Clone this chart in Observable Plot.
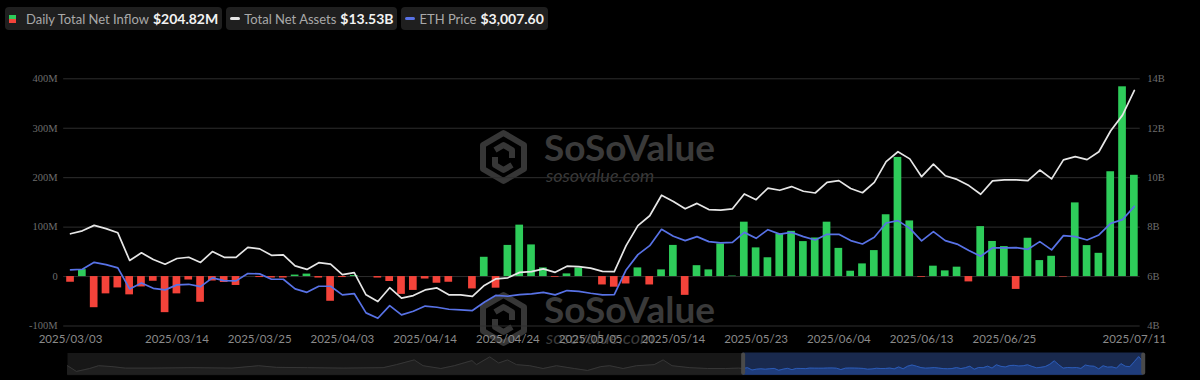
<!DOCTYPE html>
<html>
<head>
<meta charset="utf-8">
<script src="https://cdn.jsdelivr.net/npm/d3@7"></script>
<script src="https://cdn.jsdelivr.net/npm/@observablehq/plot@0.6"></script>
<style>
  html, body { margin:0; padding:0; background:#000; width:1200px; height:380px; overflow:hidden; font-family: Lato, "Noto Sans", sans-serif; }
  #page { position:relative; width:1200px; height:380px; }
  #wm { position:absolute; left:0; top:0; width:1200px; height:380px; z-index:0; pointer-events:none; }
  #content { position:relative; z-index:1; }
  #legend { height:36px; position:relative; }
  .pill { position:absolute; top:7px; height:23px; background:#1f1f1f; border-radius:4px; display:flex; align-items:center; box-sizing:border-box; padding:0 4px; white-space:nowrap; }
  .lab { color:#a9a9a9; font-size:13px; }
  .val { color:#f2f2f2; font-size:14px; font-weight:700; margin-left:4px; }
  .sq { width:7px; height:8px; margin-right:10px; background:linear-gradient(#2ecc5a 0 50%, #f4433a 50% 100%); }
  .ln { width:10px; height:3px; border-radius:2px; margin-right:4px; }
  svg { display:block; }
</style>
</head>
<body>
<div id="page">
  <svg id="wm" width="1200" height="380">
    <g fill="none" stroke="#363636" stroke-width="6" stroke-linejoin="round">
      <polygon points="503.5,133 524,145 524,169 503.5,181 483,169 483,145"/>
      <path d="M495,150 L503.5,145 L512,150 L512,158 M495,157 L495,165 L503.5,170 L512,165"/>
    </g>
    <g fill="#3a3a3a" font-family="Lato, sans-serif">
      <text x="544" y="161" font-size="37" font-weight="700">SoSoValue</text>
      <text x="546" y="182" font-size="18" font-style="italic">sosovalue.com</text>
    </g>
    <g transform="translate(0,162)">
      <g fill="none" stroke="#363636" stroke-width="6" stroke-linejoin="round">
        <polygon points="503.5,133 524,145 524,169 503.5,181 483,169 483,145"/>
        <path d="M495,150 L503.5,145 L512,150 L512,158 M495,157 L495,165 L503.5,170 L512,165"/>
      </g>
      <g fill="#3a3a3a" font-family="Lato, sans-serif">
        <text x="544" y="161" font-size="37" font-weight="700">SoSoValue</text>
        <text x="546" y="182" font-size="18" font-style="italic">sosovalue.com</text>
      </g>
    </g>
  </svg>
  <div id="content">
    <div id="legend"></div>
    <div id="main"></div>
    <div id="nav"></div>
  </div>
</div>
<script>
// ---- data ----
const dates = [
  "2025/03/03","2025/03/04","2025/03/05","2025/03/06","2025/03/07","2025/03/10","2025/03/11","2025/03/12","2025/03/13","2025/03/14",
  "2025/03/17","2025/03/18","2025/03/19","2025/03/20","2025/03/21","2025/03/24","2025/03/25","2025/03/26","2025/03/27","2025/03/28",
  "2025/03/31","2025/04/01","2025/04/02","2025/04/03","2025/04/04","2025/04/07","2025/04/08","2025/04/09","2025/04/10","2025/04/11",
  "2025/04/14","2025/04/15","2025/04/16","2025/04/17","2025/04/21","2025/04/22","2025/04/23","2025/04/24","2025/04/25","2025/04/28",
  "2025/04/29","2025/04/30","2025/05/01","2025/05/02","2025/05/05","2025/05/06","2025/05/07","2025/05/08","2025/05/09","2025/05/12",
  "2025/05/13","2025/05/14","2025/05/15","2025/05/16","2025/05/19","2025/05/20","2025/05/21","2025/05/22","2025/05/23","2025/05/27",
  "2025/05/28","2025/05/29","2025/05/30","2025/06/02","2025/06/03","2025/06/04","2025/06/05","2025/06/06","2025/06/09","2025/06/10",
  "2025/06/11","2025/06/12","2025/06/13","2025/06/16","2025/06/17","2025/06/18","2025/06/20","2025/06/23","2025/06/24","2025/06/25",
  "2025/06/26","2025/06/27","2025/06/30","2025/07/01","2025/07/02","2025/07/03","2025/07/07","2025/07/08","2025/07/09","2025/07/10",
  "2025/07/11"
];
// Daily total net inflow, USD millions
const inflow = [
  -11.5, 14, -63, -35, -23, -37, -21, -9.5, -73, -35,
  -7, -52, -9, -12, -18, 0, -2, -3, -3, 3,
  5, -3, -50, -2, 2, 0, -3, -10, -36, -28,
  -5, -13.5, -11.5, 0, -25, 39, -23.5, 63, 104, 64,
  17.5, -1.5, 5.4, 17.5, 0, -17, -21.5, -15, 17.5, -17,
  13.5, 63, -38, 22, 13.5, 66, 1, 110, 58, 38,
  86, 91.5, 70.7, 78, 110, 57, 10.8, 25.6, 52.5, 125,
  241, 112.5, -1.5, 21, 11.5, 19, -10.8, 101, 71, 60.6,
  -26, 77.5, 32.3, 41, -1, 149, 62.6, 47, 212, 383.8,
  204.82
];
// Total net assets, USD billions
const assets = [
  7.73, 7.85, 8.07, 7.94, 7.77, 6.65, 6.96, 6.69, 6.50, 6.73,
  6.78, 6.57, 7.01, 6.78, 6.78, 7.18, 7.12, 6.86, 6.88, 6.43,
  6.29, 6.56, 6.50, 6.08, 6.16, 5.26, 4.99, 5.55, 5.13, 5.23,
  5.46, 5.54, 5.26, 5.26, 5.20, 5.64, 5.91, 5.95, 6.17, 6.20,
  6.31, 6.17, 6.42, 6.40, 6.34, 6.21, 6.20, 7.25, 8.06, 8.46,
  9.29, 9.04, 8.74, 8.96, 8.71, 8.69, 8.74, 9.34, 9.11, 9.58,
  9.49, 9.64, 9.45, 9.38, 9.81, 9.88, 9.56, 9.39, 9.81, 10.65,
  11.05, 10.76, 10.04, 10.55, 10.08, 9.93, 9.68, 9.33, 9.87, 9.91,
  9.91, 9.88, 10.31, 9.95, 10.72, 10.85, 10.73, 11.05, 11.90, 12.53,
  13.53
];
// ETH price, USD
const eth = [
  2136, 2145, 2240, 2209, 2164, 1876, 1958, 1884, 1862, 1931,
  1939, 1907, 2027, 1990, 1986, 2086, 2082, 2008, 2008, 1876,
  1829, 1912, 1912, 1794, 1812, 1547, 1473, 1647, 1520, 1569,
  1640, 1624, 1597, 1588, 1579, 1692, 1788, 1775, 1798, 1808,
  1829, 1794, 1853, 1843, 1816, 1794, 1798, 2136, 2346, 2469,
  2693, 2597, 2538, 2593, 2524, 2506, 2515, 2651, 2569, 2688,
  2627, 2651, 2593, 2547, 2624, 2624, 2538, 2492, 2583, 2780,
  2812, 2706, 2534, 2661, 2538, 2490, 2401, 2323, 2438, 2438,
  2442, 2419, 2524, 2411, 2606, 2593, 2547, 2616, 2775, 2825,
  3007.6
];
const leftTicks = [-100, 0, 100, 200, 300, 400];
const dateTicks = ["2025/03/03","2025/03/14","2025/03/25","2025/04/03","2025/04/14","2025/04/24","2025/05/05","2025/05/14","2025/05/23","2025/06/04","2025/06/13","2025/06/25","2025/07/11"];
// navigator: earlier history (trading-day index, daily inflow M)
const navPreDay = [0, 2, 5, 7, 10, 13, 19, 28, 37, 43, 47, 54, 62, 71, 74, 78, 80, 84, 87, 91, 92, 95, 97, 99, 101, 104, 107, 110, 114, 117, 120, 122, 125, 128, 132, 134, 136, 140, 144, 148, 151];
const navPreVal = [80, -110, -13, 80, 50, 0, 0, 15, 0, 80, 25, 15, 0, 15, 115, 273, 80, -13, 80, 250, 115, 373, 170, 273, 115, 80, -13, 80, -13, -78, 50, 80, -13, 80, 115, 273, 80, 15, -13, -13, 0];
const navStart = 152;

// ---- colors / mapping ----
const GREEN = "#2ecc5a", RED = "#f4433a", WHITE = "#e6e6e6", BLUE = "#5872e6";
const assetsToY = b => (b - 6) * 50;         // 6B..14B  ->  0..400 (shared grid)
const ethToY = p => (p - 2045) / 6.78;       // hidden ETH axis

const data = dates.map((d, i) => ({date: d, inflow: inflow[i], assets: assets[i], eth: eth[i]}));

// ---- legend ----
const last = data[data.length - 1];
const fmtM = v => "$" + v.toFixed(2) + "M";
const fmtB = v => "$" + v.toFixed(2) + "B";
const fmtP = v => "$" + d3.format(",.2f")(v);
const legend = document.getElementById("legend");
legend.innerHTML = `
  <div class="pill"><span class="sq"></span><span class="lab">Daily Total Net Inflow</span><span class="val">${fmtM(last.inflow)}</span></div>
  <div class="pill"><span class="ln" style="background:${WHITE}"></span><span class="lab">Total Net Assets</span><span class="val">${fmtB(last.assets)}</span></div>
  <div class="pill"><span class="ln" style="background:${BLUE}"></span><span class="lab">ETH Price</span><span class="val">${fmtP(last.eth)}</span></div>`;
const pills = legend.querySelectorAll(".pill");
let px = 5;
pills.forEach(p => { p.style.left = px + "px"; px += p.getBoundingClientRect().width + 4; });

// ---- main chart ----
const main = Plot.plot({
  width: 1200,
  height: 312,
  marginLeft: 66.2,
  marginRight: 62.3,
  marginTop: 42.3,
  marginBottom: 22.5,
  style: {background: "transparent", overflow: "visible"},
  x: {type: "band", domain: dates, paddingInner: 0.35, paddingOuter: 0, align: 0.5},
  y: {domain: [-100, 400]},
  color: {type: "identity"},
  marks: [
    Plot.ruleY(leftTicks, {stroke: "#2e2e2e", strokeWidth: 1, insetLeft: -3, insetRight: -2}),
    Plot.barY(data, {x: "date", y: "inflow", fill: d => d.inflow >= 0 ? GREEN : RED}),
    Plot.line(data, {x: "date", y: d => ethToY(d.eth), stroke: BLUE, strokeWidth: 1.7}),
    Plot.line(data, {x: "date", y: d => assetsToY(d.assets), stroke: WHITE, strokeWidth: 1.7}),
    Plot.axisY(leftTicks, {anchor: "left", tickSize: 0, tickPadding: 9, label: null,
      tickFormat: v => v === 0 ? "0" : v + "M", fill: "#6e6e6e", fontFamily: "Liberation Serif", fontSize: 10.5}),
    Plot.axisY(leftTicks, {anchor: "right", tickSize: 0, tickPadding: 9, label: null,
      tickFormat: v => (v / 50 + 6) + "B", fill: "#6e6e6e", fontFamily: "Liberation Serif", fontSize: 10.5}),
    Plot.axisX(dateTicks, {anchor: "bottom", tickSize: 0, tickPadding: 9, label: null,
      fill: "#8a8a8a", fontFamily: "Lato", fontSize: 11.5})
  ]
});
document.getElementById("main").appendChild(main);

// ---- navigator ----
const navPre = navPreDay.map((d, i) => ({day: d, v: navPreVal[i]}));
const navSel = inflow.map((v, i) => ({day: navStart + i, v}));
const navEnd = navStart + inflow.length - 1;
const NAVMIN = -236, NAVMAX = 503;
const nav = Plot.plot({
  width: 1200,
  height: 32,
  marginLeft: 67,
  marginRight: 57.3,
  marginTop: 4.5,
  marginBottom: 5.3,
  style: {background: "transparent", overflow: "visible"},
  x: {domain: [0, navEnd], axis: null},
  y: {domain: [NAVMIN, NAVMAX], axis: null},
  marks: [
    Plot.frame({fill: "#171717", stroke: null}),
    Plot.areaY(navPre.concat([navSel[0]]), {x: "day", y1: NAVMIN, y2: "v", fill: "#1f1f1f"}),
    Plot.line(navPre.concat([navSel[0]]), {x: "day", y: "v", stroke: "#363636", strokeWidth: 1}),
    Plot.rect([{a: navStart, b: navEnd}], {x1: "a", x2: "b", y1: NAVMIN, y2: NAVMAX, fill: "#19294d"}),
    Plot.areaY(navSel, {x: "day", y1: NAVMIN, y2: "v", fill: "#1f3d7c"}),
    Plot.line(navSel, {x: "day", y: "v", stroke: "#2c5bb5", strokeWidth: 1}),
    Plot.tickX([navStart, navEnd], {stroke: "#4a4a4a", strokeWidth: 4, insetTop: 2, insetBottom: 2, strokeLinecap: "round"})
  ]
});
document.getElementById("nav").appendChild(nav);
</script>
</body>
</html>
